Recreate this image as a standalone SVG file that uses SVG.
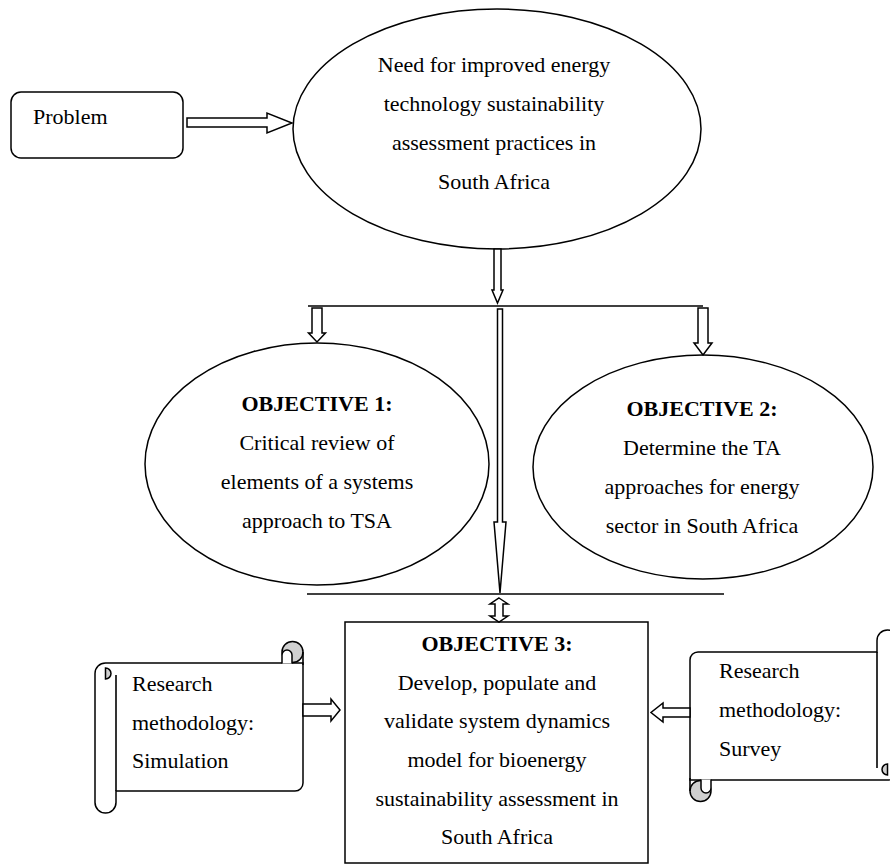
<svg xmlns="http://www.w3.org/2000/svg" xmlns:xlink="http://www.w3.org/1999/xlink" width="890" height="865" viewBox="0 0 890 865">
<style>
.s{fill:#fff;stroke:#000;stroke-width:1.5;stroke-linejoin:miter}
.ln{fill:none;stroke:#000;stroke-width:1.6}
.g{fill:#d0d0d0;stroke:#000;stroke-width:1.5}
.t{font-family:"Liberation Serif","Times New Roman",serif;font-size:22px;fill:#000}
.c{text-anchor:middle}
.b{font-weight:bold}
</style>
<defs>
<g id="scrollShape">
<path class="s" d="M0,32.5 A10.5,10.5 0 0 1 10.5,22 L208,22 L208,142 A8,8 0 0 1 200,150 L21,150 L21,161.5 A10.5,10.5 0 0 1 0,161.5 Z"/>
<path class="ln" d="M21,150 L21,34"/>
<path class="g" d="M10.5,27 A5.5,5.5 0 0 1 10.5,38 Z"/>
<circle class="g" cx="197.5" cy="11" r="10.5"/>
<path class="s" d="M187,22.5 L187,14 A5,5 0 0 1 197,14 L197,22.5"/>
<path class="ln" d="M208,11 L208,24"/>
</g>
</defs>

<g id="problem">
<rect class="s" x="11" y="92" width="172" height="66" rx="10" ry="10"/>
<text class="t" x="33" y="124">Problem</text>
</g>

<g id="need">
<ellipse class="s" cx="497" cy="129" rx="204" ry="120"/>
<text class="t c" x="494" y="72">Need for improved energy</text>
<text class="t c" x="494" y="111">technology sustainability</text>
<text class="t c" x="494" y="150">assessment practices in</text>
<text class="t c" x="494" y="189">South Africa</text>
</g>

<g id="objective1">
<ellipse class="s" cx="317" cy="464" rx="172" ry="121"/>
<text class="t c b" x="317" y="411">OBJECTIVE 1:</text>
<text class="t c" x="317" y="450">Critical review of</text>
<text class="t c" x="317" y="489">elements of a systems</text>
<text class="t c" x="317" y="528">approach to TSA</text>
</g>

<g id="objective2">
<ellipse class="s" cx="703" cy="467" rx="170" ry="112"/>
<text class="t c b" x="702" y="416">OBJECTIVE 2:</text>
<text class="t c" x="702" y="455">Determine the TA</text>
<text class="t c" x="702" y="494">approaches for energy</text>
<text class="t c" x="702" y="533">sector in South Africa</text>
</g>

<g id="objective3">
<rect class="s" x="345" y="622" width="303" height="241"/>
<text class="t c b" x="497" y="651">OBJECTIVE 3:</text>
<text class="t c" x="497" y="690">Develop, populate and</text>
<text class="t c" x="497" y="728">validate system dynamics</text>
<text class="t c" x="497" y="767">model for bioenergy</text>
<text class="t c" x="497" y="806">sustainability assessment in</text>
<text class="t c" x="497" y="844">South Africa</text>
</g>

<g id="simulation">
<use xlink:href="#scrollShape" transform="translate(95,641)"/>
<text class="t" x="132" y="691">Research</text>
<text class="t" x="132" y="730">methodology:</text>
<text class="t" x="132" y="768">Simulation</text>
</g>

<g id="survey">
<use xlink:href="#scrollShape" transform="translate(898,802) rotate(180)"/>
<text class="t" x="719" y="678">Research</text>
<text class="t" x="719" y="717">methodology:</text>
<text class="t" x="719" y="756">Survey</text>
</g>

<g id="connectors">
<polygon class="s" points="187,118 267,118 267,113 292,123 267,133 267,127 187,127"/>
<polygon class="s" points="494,249 501,249 501,290 503,290 497.5,303 492,290 494,290"/>
<line class="ln" x1="308" y1="306" x2="703" y2="306"/>
<polygon class="s" points="312,308 322,308 322,333 325.5,333 317,342 308.5,333 312,333"/>
<polygon class="s" points="698,308 708,308 708,343 712,343 703,355 694,343 698,343"/>
<polygon class="s" points="497.5,309 502.5,309 502.5,522 506,522 500,593 494,522 497.5,522"/>
<line class="ln" x1="307" y1="594" x2="724" y2="594"/>
<polygon class="s" points="499,598 508,604 503,604 503,616 508,616 499,622 490,616 495,616 495,604 490,604"/>
<polygon class="s" points="303,704 331,704 331,699 340,710 331,721 331,716 303,716"/>
<polygon class="s" points="690,708 663,708 663,703 651,712.5 663,722 663,717 690,717"/>
</g>
</svg>
